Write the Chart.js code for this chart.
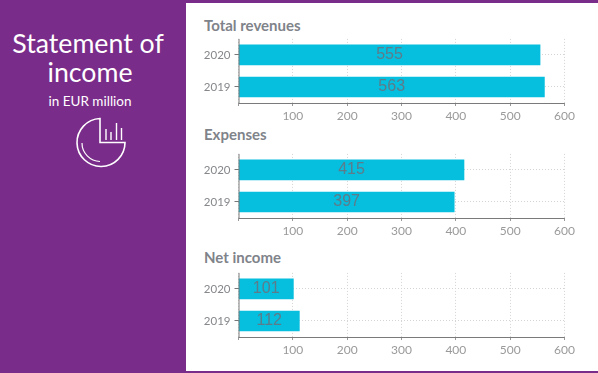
<!DOCTYPE html>
<html>
<head>
<meta charset="utf-8">
<style>
  html, body { margin: 0; padding: 0; }
  body { width: 598px; height: 373px; background: #7a2c8a; position: relative; overflow: hidden; font-family: Lato, sans-serif; }
  #panel { position: absolute; left: 186px; top: 3px; width: 412px; height: 368px; background: #fff; }
  .big { position: absolute; left: 0; width: 176px; text-align: center; color: #fff; font-weight: 400; font-size: 26.7px; line-height: 30px; }
  #sub { position: absolute; left: 0; width: 180px; text-align: center; top: 93px; color: #fff; font-size: 13.5px; line-height: 16px; }
  #icon { position: absolute; left: 70px; top: 112px; }
  .title { position: absolute; left: 204px; color: #7f838a; font-weight: 700; font-size: 15px; line-height: 18px; }
  .box { position: absolute; left: 186px; width: 400px; height: 97px; }
</style>
</head>
<body>
<div id="panel"></div>
<div class="big" style="top:28px">Statement of</div>
<div class="big" style="top:57px;width:180px">income</div>
<div id="sub">in EUR million</div>
<svg id="icon" width="60" height="60" fill="none" stroke="#fff">
  <path d="M30 6.5 A24 24 0 1 0 55 30.5 L30 30.5 Z" stroke-width="1.6"/>
  <path d="M12 31 A18.5 18.5 0 0 0 30 49.5" stroke-width="1.2"/>
  <path d="M36 28 V17 M41 28 V20 M46.500 28 V11 M51.500 28 V16" stroke-width="1.4"/>
</svg>
<div class="title" style="top:16px">Total revenues</div>
<div class="title" style="top:125px">Expenses</div>
<div class="title" style="top:248px">Net income</div>
<div class="box" style="top:28px"><canvas id="revenueChart"></canvas></div>
<div class="box" style="top:143px"><canvas id="expenseChart"></canvas></div>
<div class="box" style="top:262px"><canvas id="incomeChart"></canvas></div>

<script src="https://cdn.jsdelivr.net/npm/chart.js@4"></script>
<script>
const years = ["2020", "2019"];
const revenues = [555, 563];
const expenses = [415, 397];
const netIncome = [101, 112];
const xTicks = [100, 200, 300, 400, 500, 600];

// Value printed in the middle of each bar
const barValues = {
  id: "barValues",
  afterDatasetsDraw(chart) {
    const ctx = chart.ctx;
    const values = chart.data.datasets[0].data;
    ctx.save();
    ctx.font = "16px 'Liberation Sans'";
    ctx.fillStyle = "#5d7c8b";
    ctx.textAlign = "center";
    ctx.textBaseline = "middle";
    chart.getDatasetMeta(0).data.forEach((bar, i) => {
      ctx.fillText(values[i], (bar.x + bar.base) / 2, bar.y);
    });
    ctx.restore();
  }
};

function drawChart(id, values) {
  new Chart(document.getElementById(id), {
    type: "bar",
    data: {
      labels: years,
      datasets: [{
        data: values,
        backgroundColor: "#06bedd",
        borderWidth: 0,
        barThickness: 20
      }]
    },
    options: {
      indexAxis: "y",
      responsive: true,
      maintainAspectRatio: false,
      animation: false,
      layout: { padding: { right: 21.5 } },
      plugins: { legend: { display: false }, tooltip: { enabled: false } },
      scales: {
        x: {
          min: 0,
          max: 600,
          afterFit: scale => { scale.height = 22; },
          afterBuildTicks: scale => {
            scale.ticks = [0].concat(xTicks).map(v => ({ value: v }));
          },
          ticks: {
            color: "#9a9a9a",
            font: { family: "Lato", size: 12 },
            padding: 3,
            maxRotation: 0,
            callback: v => (v === 0 ? "" : v)
          },
          grid: { color: "#d4d4d4", tickColor: "#999", tickLength: 3, lineWidth: 1 },
          border: { dash: [1, 2], display: false }
        },
        y: {
          afterFit: scale => { scale.width = 52.5; },
          ticks: {
            color: "#85878b",
            font: { family: "Lato", size: 11.5 },
            padding: 4
          },
          grid: { offset: false, color: "#d4d4d4", tickColor: "#777", tickLength: 4 },
          border: { dash: [1, 2], display: false }
        }
      }
    },
    plugins: [barValues, {
      id: "axisLines",
      // solid axis lines on top of the dotted grid
      afterDraw(chart) {
        const { ctx, chartArea: a } = chart;
        ctx.save();
        ctx.strokeStyle = "#7a7a7a";
        ctx.lineWidth = 1;
        ctx.beginPath();
        ctx.moveTo(a.left + 0.5, a.top);
        ctx.lineTo(a.left + 0.5, a.bottom + 0.5);
        ctx.lineTo(a.right, a.bottom + 0.5);
        ctx.stroke();
        ctx.restore();
      }
    }]
  });
}

drawChart("revenueChart", revenues);
drawChart("expenseChart", expenses);
drawChart("incomeChart", netIncome);
</script>
</body>
</html>
